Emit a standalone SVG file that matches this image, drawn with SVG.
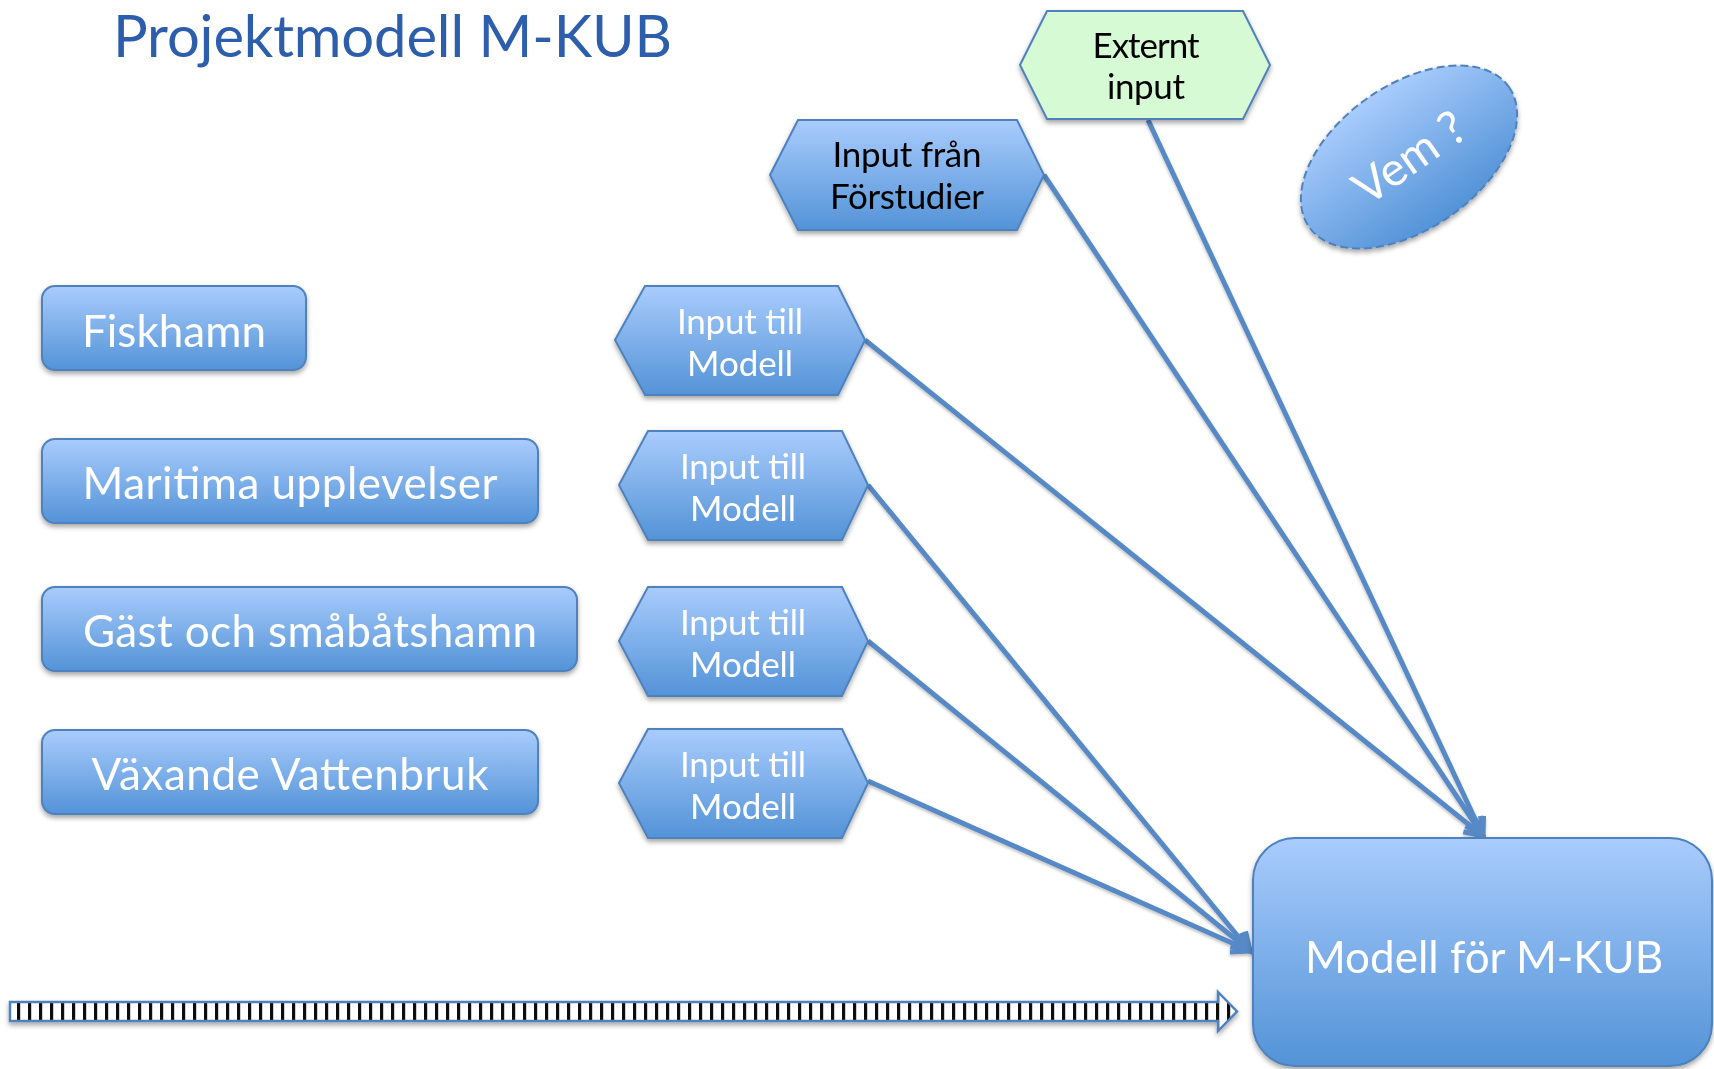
<svg xmlns="http://www.w3.org/2000/svg" width="1714" height="1069" viewBox="0 0 1714 1069">
<style>
.box{fill:url(#blueGrad);stroke:#4f81bd;stroke-width:2;}
.wt{font-family:Lato,"Open Sans","Liberation Sans",sans-serif;fill:#ffffff;text-anchor:middle;}
.bt{font-family:Lato,"Open Sans","Liberation Sans",sans-serif;fill:#000000;text-anchor:middle;}
.big{font-size:44px;}
.hex{font-size:35px;}
.conn{stroke:#5689c6;stroke-width:5;fill:none;marker-end:url(#arr);}
</style>
<defs>
<linearGradient id="blueGrad" x1="0" y1="0" x2="0" y2="1">
<stop offset="0" stop-color="#a9ccfd"/>
<stop offset="1" stop-color="#5393d7"/>
</linearGradient>
<filter id="sh" x="-10%" y="-10%" width="120%" height="130%">
<feDropShadow dx="0" dy="3" stdDeviation="2.5" flood-color="#000" flood-opacity="0.35"/>
</filter>
<filter id="lsh" x="-10%" y="-10%" width="120%" height="120%">
<feDropShadow dx="0" dy="2" stdDeviation="1.5" flood-color="#000" flood-opacity="0.25"/>
</filter>
<marker id="arr" markerUnits="userSpaceOnUse" viewBox="0 0 26 26" markerWidth="26" markerHeight="26" refX="21" refY="13" orient="auto">
<path d="M3,4 L21,13 L3,22" fill="none" stroke="#5689c6" stroke-width="5"/>
</marker>
<pattern id="stripes" patternUnits="userSpaceOnUse" x="17" y="0" width="11" height="20">
<rect x="0" y="0" width="11" height="20" fill="#ffffff"/>
<rect x="0" y="0" width="3.2" height="20" fill="#111111"/>
</pattern>
</defs>
<rect x="0" y="0" width="1714" height="1069" fill="#ffffff"/>

<g id="title">
<text x="113" y="57" font-family="Lato,'Open Sans','Liberation Sans',sans-serif" font-size="58" fill="#2d5eab" textLength="559">Projektmodell M-KUB</text>
</g>

<g id="connectors" filter="url(#lsh)">
<line class="conn" x1="865" y1="340" x2="1483" y2="836"/>
<line class="conn" x1="1044" y1="175" x2="1483" y2="836"/>
<line class="conn" x1="1148" y1="120" x2="1483" y2="836"/>
<line class="conn" x1="868" y1="485" x2="1250" y2="951"/>
<line class="conn" x1="868" y1="641" x2="1250" y2="951"/>
<line class="conn" x1="868" y1="781" x2="1250" y2="951"/>
</g>

<g id="fiskhamn" filter="url(#sh)">
<rect class="box" x="42" y="286" width="264" height="84" rx="13"/>
<text class="wt big" x="174" y="347" textLength="184">Fiskhamn</text>
</g>
<g id="maritima" filter="url(#sh)">
<rect class="box" x="42" y="439" width="496" height="84" rx="13"/>
<text class="wt big" x="290" y="499" textLength="415">Maritima upplevelser</text>
</g>
<g id="gast" filter="url(#sh)">
<rect class="box" x="42" y="587" width="535" height="84" rx="13"/>
<text class="wt big" x="310" y="647" textLength="454">Gäst och småbåtshamn</text>
</g>
<g id="vaxande" filter="url(#sh)">
<rect class="box" x="42" y="730" width="496" height="84" rx="13"/>
<text class="wt big" x="290" y="790" textLength="397">Växande Vattenbruk</text>
</g>

<g id="input1" filter="url(#sh)">
<polygon class="box" points="615,340 645,286 838,286 865,340 838,395 645,395"/>
<text class="wt hex" x="740" y="334" textLength="126">Input till</text>
<text class="wt hex" x="740" y="376" textLength="106">Modell</text>
</g>
<g id="input2" filter="url(#sh)">
<polygon class="box" points="619,485 648,431 842,431 868,485 842,540 648,540"/>
<text class="wt hex" x="743" y="479" textLength="126">Input till</text>
<text class="wt hex" x="743" y="521" textLength="106">Modell</text>
</g>
<g id="input3" filter="url(#sh)">
<polygon class="box" points="619,641 648,587 842,587 868,641 842,696 648,696"/>
<text class="wt hex" x="743" y="635" textLength="126">Input till</text>
<text class="wt hex" x="743" y="677" textLength="106">Modell</text>
</g>
<g id="input4" filter="url(#sh)">
<polygon class="box" points="619,783 648,729 842,729 868,783 842,838 648,838"/>
<text class="wt hex" x="743" y="777" textLength="126">Input till</text>
<text class="wt hex" x="743" y="819" textLength="106">Modell</text>
</g>

<g id="forstudier" filter="url(#sh)">
<polygon class="box" points="770,175 798,120 1017,120 1044,175 1017,230 798,230"/>
<text class="bt hex" x="907" y="167" textLength="149">Input från</text>
<text class="bt hex" x="907" y="209" textLength="154">Förstudier</text>
</g>

<g id="externt" filter="url(#sh)">
<polygon points="1020,65 1047,11 1243,11 1270,65 1243,119 1047,119" fill="#d5fad4" stroke="#4f81bd" stroke-width="2"/>
<text class="bt hex" x="1146" y="58" textLength="107">Externt</text>
<text class="bt hex" x="1146" y="99" textLength="78">input</text>
</g>

<g id="vem" filter="url(#sh)">
<g transform="translate(1409,157) rotate(-35)">
<ellipse cx="0" cy="0" rx="122" ry="72" fill="url(#blueGrad)" stroke="#4f81bd" stroke-width="2" stroke-dasharray="8,4"/>
<text class="wt" x="0" y="17" font-size="47">Vem ?</text>
</g>
</g>

<g id="modell" filter="url(#sh)">
<rect class="box" x="1253" y="838" width="459" height="228" rx="42"/>
<text class="wt" x="1484" y="973" font-size="44">Modell för M-KUB</text>
</g>

<g id="timeline" filter="url(#sh)">
<path d="M10,1002 H1218 V992 L1237,1011.5 L1218,1031 V1021 H10 Z" fill="url(#stripes)" stroke="#4f81bd" stroke-width="2.5" stroke-linejoin="miter"/>
</g>
</svg>
